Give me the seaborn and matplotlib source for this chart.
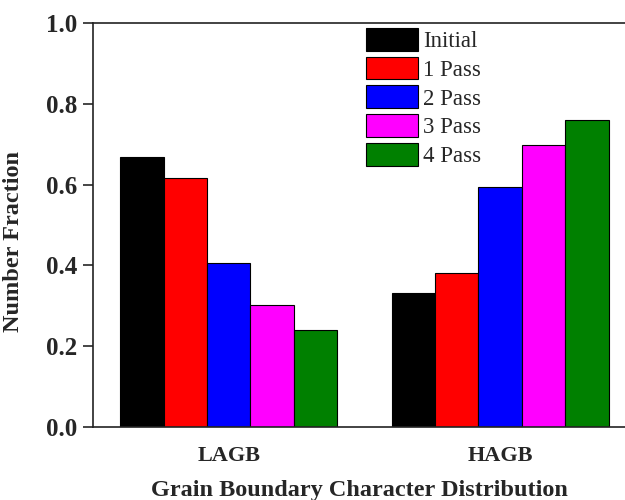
import matplotlib
matplotlib.use("Agg")
import matplotlib.pyplot as plt
import seaborn as sns
import pandas as pd

categories = ["LAGB", "HAGB"]
series = ["Initial", "1 Pass", "2 Pass", "3 Pass", "4 Pass"]
lagb = [0.668, 0.617, 0.405, 0.302, 0.240]
hagb = [0.332, 0.381, 0.595, 0.698, 0.760]
colors = ["#000000", "#ff0000", "#0000ff", "#ff00ff", "#008000"]
yticks = [0.0, 0.2, 0.4, 0.6, 0.8, 1.0]

rows = []
for s, a, b in zip(series, lagb, hagb):
    rows.append({"cat": "LAGB", "series": s, "val": a})
    rows.append({"cat": "HAGB", "series": s, "val": b})
df = pd.DataFrame(rows)

sns.set_style("ticks")
plt.rcParams["font.family"] = ["Liberation Serif", "DejaVu Serif"]

fig = plt.figure(figsize=(6.25, 5), dpi=100)
ax = fig.add_axes([93/625, 1-427/500, 1-93/625, (427-23)/500])

sns.barplot(data=df, x="cat", y="val", hue="series", order=categories,
            hue_order=series, palette=colors, width=0.8, ax=ax,
            edgecolor="black", linewidth=0.8, saturation=1, errorbar=None)

ax.set_ylim(0, 1.0)
ax.set_xlim(-0.5, 1.46)
ax.set_yticks(yticks)
ax.set_yticklabels([f"{t:.1f}" for t in yticks], fontsize=18, fontweight="bold")
ax.set_xticks([0, 1])
ax.set_xticklabels(categories, fontsize=16, fontweight="bold")
ax.tick_params(axis="x", length=0, pad=14)
ax.tick_params(axis="y", direction="out", length=7, width=1.2, pad=4)
ax.set_xlabel("Grain Boundary Character Distribution", fontsize=17.5,
              fontweight="bold", labelpad=10)
ax.set_ylabel("Number Fraction", fontsize=17.5, fontweight="bold")
ax.yaxis.set_label_coords(-0.13, 0.458)
ax.spines["right"].set_visible(False)
for sp in ["left", "top", "bottom"]:
    ax.spines[sp].set_linewidth(1.2)
    ax.spines[sp].set_color("#222222")

leg = ax.legend(loc="upper left", bbox_to_anchor=(366/625, 1-28/500),
                bbox_transform=fig.transFigure, frameon=False, fontsize=16.5,
                handlelength=2.25, handleheight=1.15, labelspacing=0.2,
                handletextpad=0.25, borderpad=0, borderaxespad=0)

fig.savefig("out.png", dpi=100)
